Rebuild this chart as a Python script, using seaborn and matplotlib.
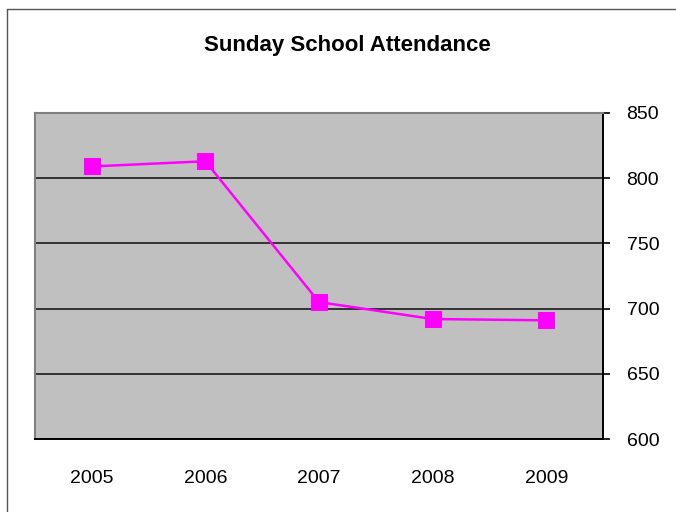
import matplotlib
matplotlib.use("Agg")
import matplotlib.pyplot as plt
import seaborn as sns
import pandas as pd
import numpy as np
from matplotlib.lines import Line2D

years = ["2005", "2006", "2007", "2008", "2009"]
attendance = [809, 813, 705, 692, 691]
y_ticks = [600, 650, 700, 750, 800, 850]
title = "Sunday School Attendance"

sns.set_style("white")
plt.rcParams['font.family'] = ['Liberation Sans', 'DejaVu Sans']

df = pd.DataFrame({"year": years, "attendance": attendance})

fig = plt.figure(figsize=(6.76, 5.12), dpi=100)
ax = fig.add_axes([35/676, 1 - 439/512, (603 - 35)/676, (439 - 113)/512])
ax.set_facecolor("#C0C0C0")

ax.set_ylim(600, 850)
ax.set_yticks(y_ticks)
ax.yaxis.grid(True, color="#333333", linewidth=1.4)
ax.set_axisbelow(True)

sns.lineplot(data=df, x="year", y="attendance", ax=ax, color="#FF00FF",
             linewidth=1.8, marker="s", markersize=11, markeredgecolor="#FF00FF",
             markerfacecolor="#FF00FF", sort=False, zorder=3)

ax.set_xlim(-0.5, len(years) - 0.5)
ax.set_xticks(range(len(years)))
ax.set_xticklabels(years)
ax.set_xticks(np.arange(-0.5, len(years), 1.0), minor=True)
ax.tick_params(axis="x", which="major", length=0, pad=22, labelsize=14, colors="#000000")
ax.tick_params(axis="x", which="minor", length=5, width=1.2, color="#000000", direction="out")

ax.yaxis.tick_right()
ax.tick_params(axis="y", which="major", length=5, width=1.2, direction="out",
               pad=12, labelsize=14, colors="#000000")
ax.set_xlabel("")
ax.set_ylabel("")

for s in ["left", "top"]:
    ax.spines[s].set_color("#808080")
    ax.spines[s].set_linewidth(1.5)
for s in ["right", "bottom"]:
    ax.spines[s].set_color("#000000")
    ax.spines[s].set_linewidth(1.4)
    ax.spines[s].set_visible(True)

fig.text(347/676, 1 - 46/512, title, ha="center", va="center",
         fontsize=16, fontweight="bold", color="#000000")

# chart area border (left and top visible)
fig.add_artist(Line2D([6.5/676, 6.5/676], [0, 1 - 8.5/512], transform=fig.transFigure,
                      color="#555555", linewidth=1.0))
fig.add_artist(Line2D([6.5/676, 1], [1 - 8.5/512, 1 - 8.5/512], transform=fig.transFigure,
                      color="#555555", linewidth=1.0))

fig.savefig("out.png", dpi=100, facecolor="white")
